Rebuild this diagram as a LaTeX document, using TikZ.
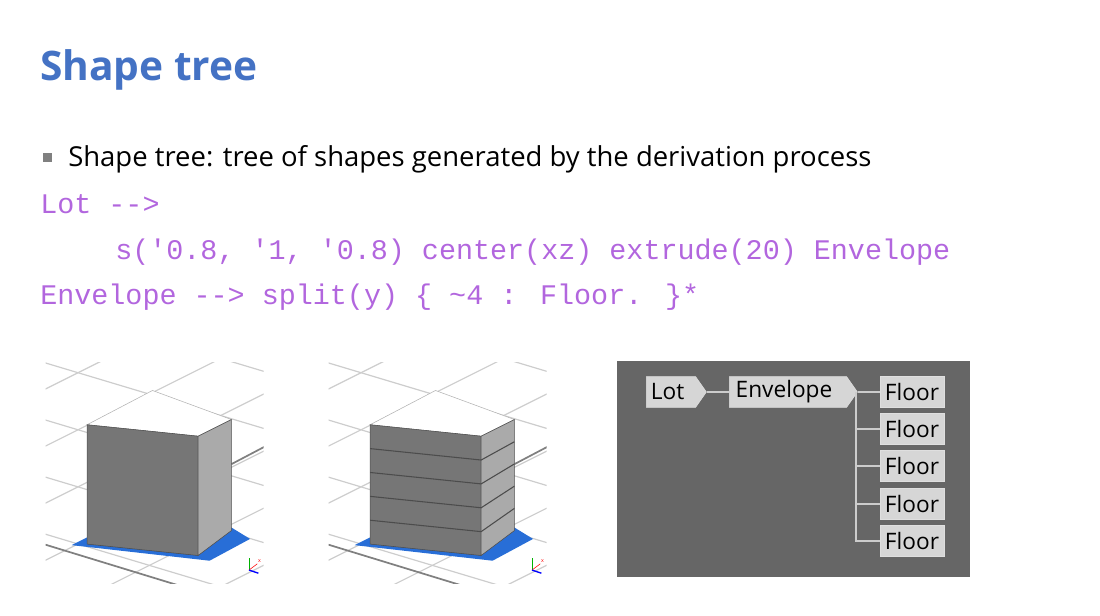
\documentclass[tikz,border=0pt]{standalone}
\usepackage{fontspec}
\setmainfont{Open Sans}
\newfontfamily\codefont{Liberation Mono}
\usetikzlibrary{shapes.symbols}
\definecolor{titleblue}{RGB}{68,114,196}
\definecolor{codeviolet}{RGB}{178,102,222}
\definecolor{panelgray}{RGB}{102,102,102}
\definecolor{boxgray}{RGB}{214,214,214}
\definecolor{frontgray}{RGB}{118,118,118}
\definecolor{sidegray}{RGB}{170,170,170}
\definecolor{gridgray}{RGB}{205,205,205}
\definecolor{baseblue}{RGB}{40,110,215}
\begin{document}
\begin{tikzpicture}[x=0.75pt,y=-0.75pt,
  code/.style={anchor=base west,inner sep=0,font=\codefont\fontsize{21.3}{24}\selectfont,text=codeviolet},
  tagbox/.style={draw=white!75!gray,fill=boxgray,font=\fontsize{17}{20}\selectfont,inner sep=0,minimum height=23pt},
  arrowbox/.style={tagbox,signal,signal to=east,signal pointer angle=110},
  floorbox/.style={tagbox,minimum width=48pt},
  link/.style={draw=white!60!gray,line width=1.2pt}]
\useasboundingbox (0,0) rectangle (1100,616);
\node[anchor=base west,inner sep=0,text=titleblue,font=\bfseries\fontsize{30.5}{34}\selectfont] (title) at (40,81) {Shape tree};
\fill[gray] (43,153) rectangle (52,162);
\node[anchor=base west,inner sep=0,font=\fontsize{20.6}{24}\selectfont] (bul) at (68,167) {Shape tree: tree of shapes generated by the derivation process};
\node[code] (c1) at (40,214) {Lot -->};
\node[code] (c2) at (115,260) {s('0.8, '1, '0.8) center(xz) extrude(20) Envelope};
\node[code] (c3) at (40,305) {Envelope --> split(y) \{ \textasciitilde4 : Floor. \}*};
% images
\foreach \sx/\fl in {0/0,283/1}{
\begin{scope}[shift={(\sx,0)}]
\begin{scope}[shift={(30,350)},scale=1.038,shift={(-30,-350)}]
 \begin{scope}
 \clip (45,362) rectangle (255,575);
 \foreach \k in {-4,...,6}{
   \draw[gridgray,line width=0.9pt] (20,{400+\k*55}) -- ++(300,-150);
   \draw[gridgray,line width=0.9pt] (20,{300+\k*55}) -- ++(300,90);
 }
 \draw[gray,line width=1.3pt] (30,533) -- (200,585);
 \draw[gray,line width=1.3pt] (224,460) -- (262,440);
 \end{scope}
 \fill[baseblue] (70,538) -- (86,530) -- (224,521) -- (242,532) -- (203,553) -- cycle;
 \filldraw[draw=gray!60,fill=white] (85,422) -- (148,389) -- (224,417) -- (192,433) -- cycle;
 \filldraw[draw=gray!60!black,fill=frontgray] (85,422) -- (192,433) -- (192,548) -- (85,537) -- cycle;
 \filldraw[draw=gray!60!black,fill=sidegray] (192,433) -- (224,417) -- (224,524) -- (192,548) -- cycle;
 \ifnum\fl=1
 \foreach \i in {1,...,4}{
   \draw[black!70,line width=0.8pt] (85,{422+\i*23}) -- (192,{433+\i*23}) -- (224,{417+\i*21.4});
 }
 \fi
 \draw[green!70!black] (241,562) -- (241,550);
 \draw[red] (241,562) -- (249,556);
 \draw[blue,line width=1pt] (241,562) -- (250,565);
 \node[font=\fontsize{4}{4}\selectfont,text=red,inner sep=0] at (251,553) {x};
\end{scope}
\end{scope}
}
% tree panel
\fill[panelgray] (617,361) rectangle (970,577);
\node[arrowbox,minimum width=45pt] (lot) at (671,392) {\hspace*{-5pt}Lot};
\node[arrowbox,minimum width=96pt] (env) at (788,392) {\hspace*{-6pt}Envelope};
\foreach \i/\y in {1/392,2/429,3/466,4/504,5/541}{
  \node[floorbox] (f\i) at (912,\y) {Floor};
}
\draw[link] (lot.east) -- (env.west);
\coordinate (j) at (856,392);
\draw[link] (env.east) -- (f1.west);
\draw[link] (j) |- (f5.west);
\foreach \i in {2,3,4}{ \draw[link] (j |- f\i) -- (f\i.west); }
\end{tikzpicture}
\end{document}
